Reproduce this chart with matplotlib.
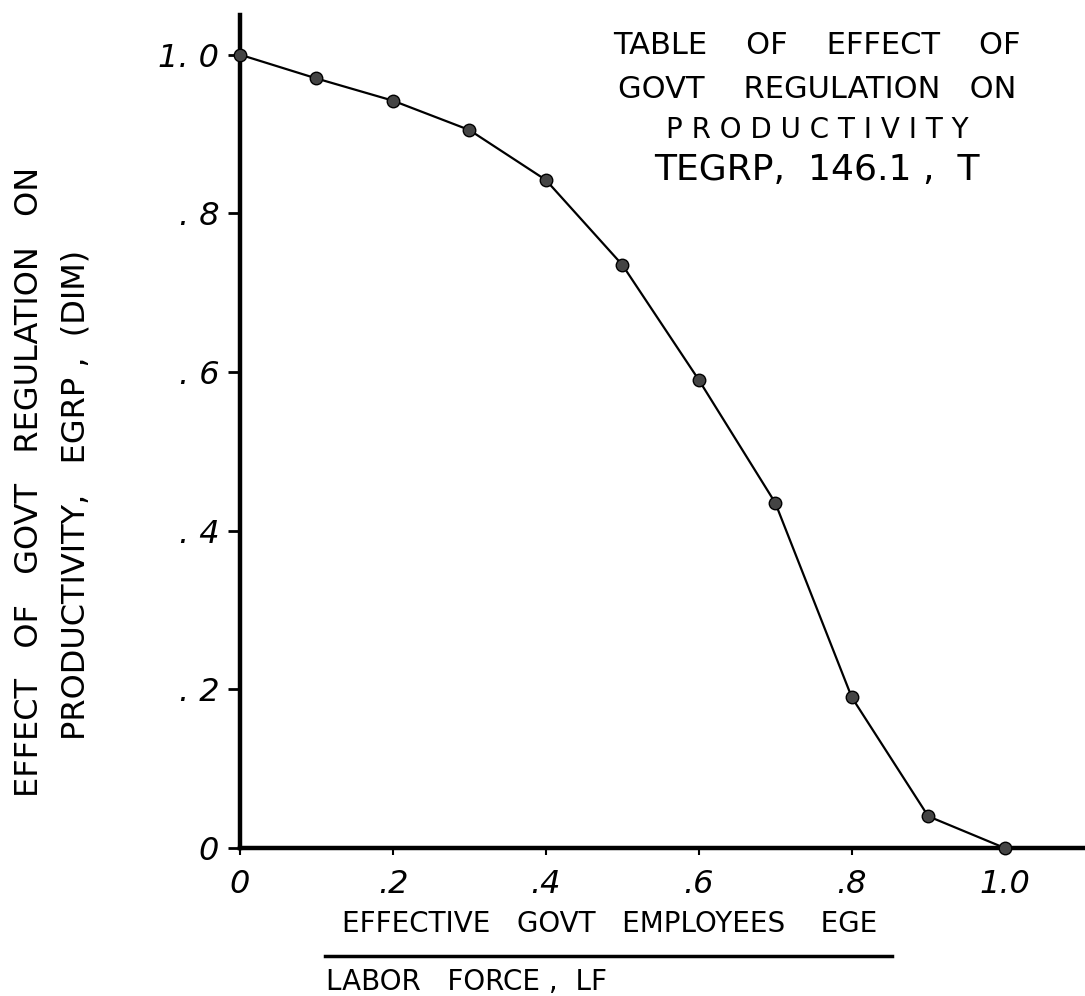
#!/usr/bin/env python3
"""Table of effect of govt regulation on productivity (TEGRP, 146.1, T)."""

import matplotlib
matplotlib.use("Agg")
from matplotlib import pyplot as plt

# Table values
ege_lf = [0.0, 0.1, 0.2, 0.3, 0.4, 0.5, 0.6, 0.7, 0.8, 0.9, 1.0]
egrp = [1.0, 0.97, 0.942, 0.905, 0.842, 0.735, 0.59, 0.435, 0.19, 0.04, 0.0]

x_ticks = [0, 0.2, 0.4, 0.6, 0.8, 1.0]
x_tick_labels = ["0", ".2", ".4", ".6", ".8", "1.0"]
y_ticks = [0, 0.2, 0.4, 0.6, 0.8, 1.0]
y_tick_labels = ["0", ". 2", ". 4", ". 6", ". 8", "1. 0"]

fig = plt.figure(figsize=(10.85, 9.96), dpi=100)
W, H = 1085, 996
# axes from x=240px to the right edge, y=15px to 848px
ax = fig.add_axes([240 / W, 1 - 848 / H, 1 - 240 / W, (848 - 15) / H])

ax.plot(ege_lf, egrp, color="black", linewidth=1.6, marker="o",
        markersize=9, markerfacecolor="#444444", markeredgecolor="black",
        clip_on=False, zorder=3)

ax.set_xlim(0, 1.105)
ax.set_ylim(0, 1.05)

for side in ["top", "right"]:
    ax.spines[side].set_visible(False)
for side in ["left", "bottom"]:
    ax.spines[side].set_linewidth(3.2)

ax.set_xticks(x_ticks)
ax.set_xticklabels(x_tick_labels, fontsize=23, style="italic")
ax.set_yticks(y_ticks)
ax.set_yticklabels(y_tick_labels, fontsize=23, style="italic")
ax.tick_params(axis="y", direction="out", length=9, width=2, pad=6)
ax.tick_params(axis="x", direction="out", length=5, width=1.5, pad=10)

# Title block in upper right
fig.text(817 / W, 1 - 46 / H, "TABLE    OF    EFFECT    OF", ha="center",
         va="center", fontsize=22)
fig.text(817 / W, 1 - 89 / H, "GOVT    REGULATION   ON", ha="center",
         va="center", fontsize=22)
fig.text(817 / W, 1 - 130 / H, "P R O D U C T I V I T Y", ha="center",
         va="center", fontsize=20)
fig.text(817 / W, 1 - 170 / H, "TEGRP,  146.1 ,  T", ha="center",
         va="center", fontsize=26)

# Y axis label (two lines)
fig.text(30 / W, 1 - 482 / H, "EFFECT   OF   GOVT   REGULATION   ON",
         rotation=90, ha="center", va="center", fontsize=23)
fig.text(76 / W, 1 - 495 / H, "PRODUCTIVITY,   EGRP ,  (DIM)",
         rotation=90, ha="center", va="center", fontsize=23)

# X axis label written as a fraction
fig.text(610 / W, 1 - 924 / H, "EFFECTIVE   GOVT   EMPLOYEES    EGE",
         ha="center", va="center", fontsize=20)
fig.add_artist(plt.Line2D([325 / W, 892 / W], [1 - 956 / H, 1 - 956 / H],
                          color="black", linewidth=2.5))
fig.text(326 / W, 1 - 982 / H, "LABOR   FORCE ,  LF", ha="left",
         va="center", fontsize=20)

fig.savefig("out.png", dpi=100)
